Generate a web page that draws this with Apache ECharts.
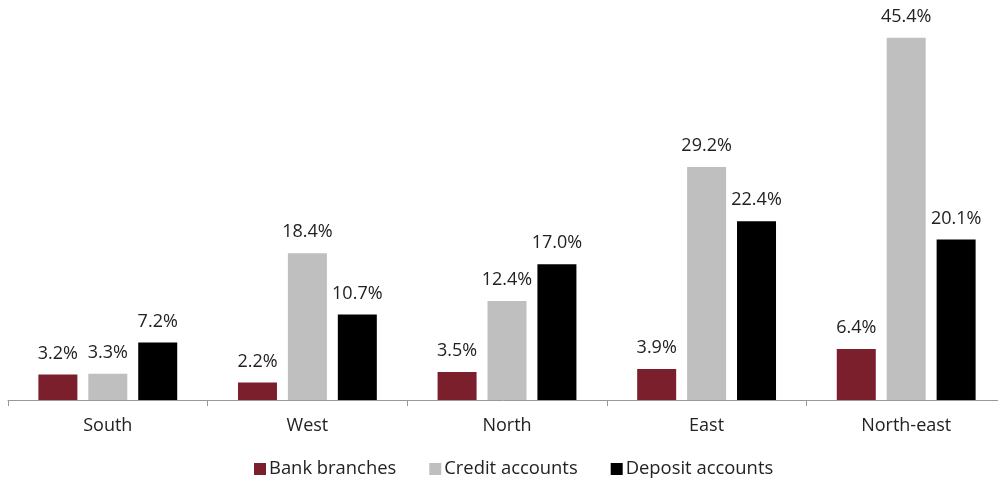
<!DOCTYPE html>
<html><head><meta charset="utf-8">
<script src="https://cdn.jsdelivr.net/npm/echarts@6/dist/echarts.min.js"></script>
<style>html,body{margin:0;padding:0;background:#fff}#c{width:998px;height:480px}</style>
</head><body><div id="c"></div>
<script>
const categories = ['South', 'West', 'North', 'East', 'North-east'];
const bankBranches = [3.2, 2.2, 3.5, 3.9, 6.4];
const creditAccounts = [3.3, 18.4, 12.4, 29.2, 45.4];
const depositAccounts = [7.2, 10.7, 17.0, 22.4, 20.1];
const seriesNames = ['Bank branches', 'Credit accounts', 'Deposit accounts'];
const colors = ['#7b1f2c', '#bfbfbf', '#000000'];

const font = '"Open Sans", Roboto, sans-serif';
const chart = echarts.init(document.getElementById('c'));
function mk(name, data, color) {
  return {
    name, type: 'bar', data, barWidth: 39, barGap: '28%',
    itemStyle: { color },
    label: { show: true, position: 'top', distance: 12, color: '#222', fontSize: 18, fontFamily: font,
      formatter: p => p.value.toFixed(1) + '%' }
  };
}
chart.setOption({
  animation: false,
  textStyle: { fontFamily: font },
  grid: { left: 8, width: 998, top: 1, height: 399, containLabel: false, outerBoundsMode: 'none' },
  legend: {
    left: 254, top: 460, padding: 0, itemWidth: 12, itemHeight: 12, itemGap: 33,
    icon: 'rect',
    textStyle: { fontSize: 18.4, color: '#222', fontFamily: font, padding: [0, 0, 0, -2] },
    data: seriesNames
  },
  xAxis: {
    type: 'category', data: categories,
    axisLine: { lineStyle: { color: '#999', width: 1 } },
    axisTick: { show: true, length: 6, lineStyle: { color: '#999' } },
    axisLabel: { color: '#222', fontSize: 18, margin: 17, fontFamily: font }
  },
  yAxis: { type: 'value', min: 0, max: 50, show: false, splitLine: { show: false } },
  series: [
    mk(seriesNames[0], bankBranches, colors[0]),
    mk(seriesNames[1], creditAccounts, colors[1]),
    mk(seriesNames[2], depositAccounts, colors[2])
  ]
});
</script></body></html>
